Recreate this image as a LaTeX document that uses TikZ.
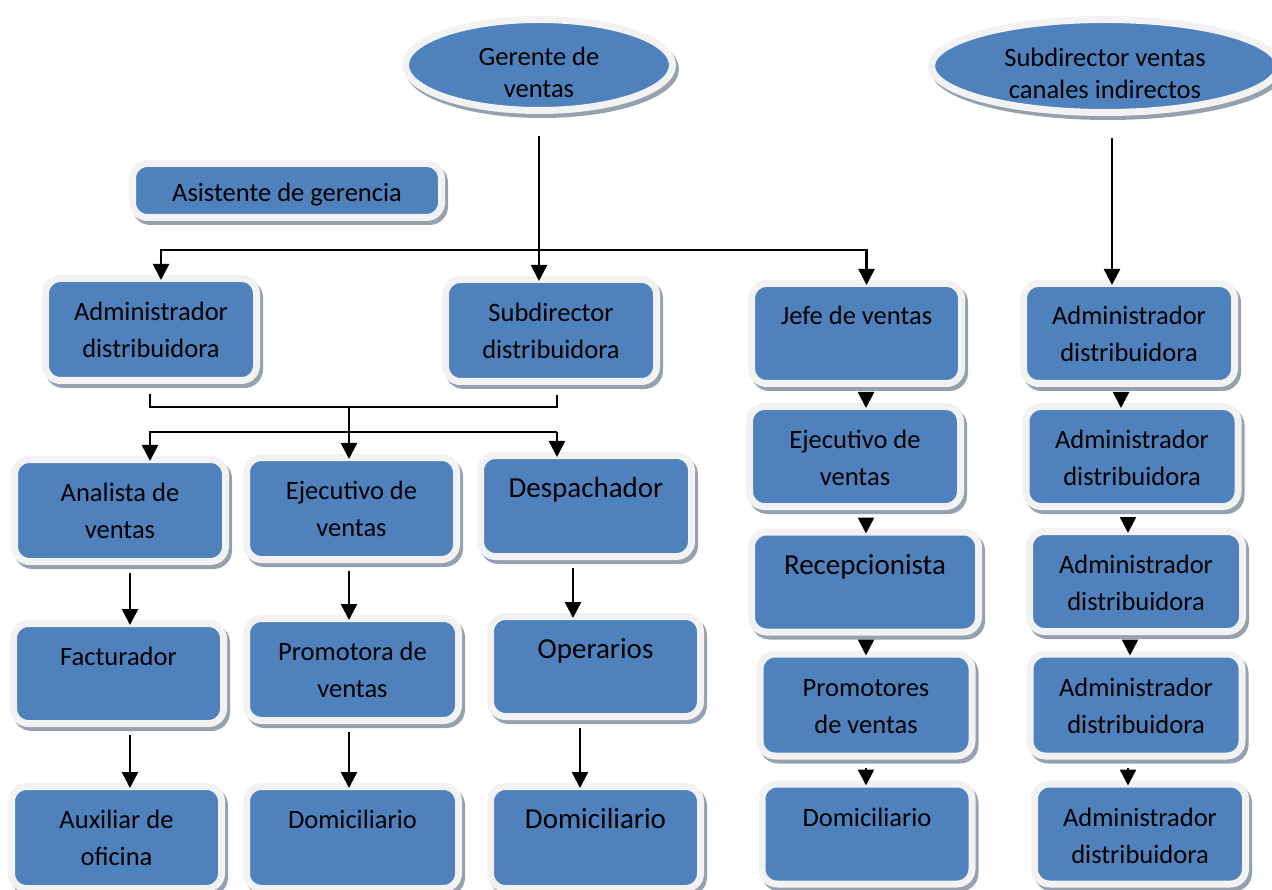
\documentclass[tikz,border=0pt]{standalone}
\usepackage{fontspec}
\setmainfont{Carlito}
\usetikzlibrary{arrows.meta,calc,shapes.geometric}
\definecolor{boxblue}{HTML}{4F81BD}
\definecolor{rimcol}{HTML}{F2F2F2}
\definecolor{shadowc}{RGB}{150,161,176}
\tikzset{
  card/.style={draw=rimcol, line width=7pt, fill=boxblue, rounded corners=15pt, inner sep=0pt,
    preaction={draw=shadowc, fill=shadowc, line width=7pt, transform canvas={xshift=3pt,yshift=-4pt}}},
  oval/.style={ellipse, draw=rimcol, line width=7pt, fill=boxblue, inner sep=0pt,
    preaction={draw=shadowc, fill=shadowc, line width=7pt, transform canvas={xshift=3pt,yshift=-4pt}}},
  link/.style={line width=2.5pt, draw=black},
  arr/.style={link, -{Triangle[width=16pt,length=16pt]}, shorten >=-5pt},
}
\newcommand\fn{\fontsize{26.5}{37}\selectfont}
\newcommand\fb{\fontsize{29}{37}\selectfont}
\newcommand\card[8]{\node[card, minimum width=#4pt+7pt, minimum height=#5pt+7pt] (#1) at (#2,#3)
  {\parbox[c][\dimexpr#5pt-10pt\relax][t]{\dimexpr#4pt-6pt\relax}{\centering#7\vspace*{#6pt}\strut#8}};}
\newcommand\down[3]{\coordinate (#1#2s) at ([xshift=#3pt]#1.south);
  \draw[arr, shorten <=8pt] (#1#2s) -- (#1#2s |- #2.north);}
\begin{document}
\begin{tikzpicture}[x=1pt,y=-1pt]
\useasboundingbox (0,0) rectangle (1272,890);
\clip (0,0) rectangle (1272,890);
% top ellipses
\node[oval, minimum width=267pt, minimum height=91pt] (ger) at (539,65)
  {\parbox[c][50pt][t]{180pt}{\centering\fontsize{26.5}{32}\selectfont\vspace*{3.6pt}\strut Gerente de\\ventas}};
\node[oval, minimum width=347pt, minimum height=93pt] (gerB) at (1105,66)
  {\parbox[c][50pt][t]{230pt}{\centering\fontsize{26.5}{32}\selectfont\vspace*{3.6pt}\strut Subdirector ventas\\canales indirectos}};
% boxes
\card{asis}{287}{190.5}{302}{47}{4}{\fn}{Asistente de gerencia}
\card{admL}{151}{329.5}{204}{95}{8}{\fn}{Administrador\\distribuidora}
\card{subd}{551}{330.5}{204}{95}{8}{\fn}{Subdirector\\distribuidora}
\card{jefe}{856.5}{333.5}{203}{93}{7}{\fn}{Jefe de ventas}
\card{adRa}{1129}{333.5}{204}{93}{7}{\fn}{Administrador\\distribuidora}
\card{anal}{120}{510.5}{204}{95}{8}{\fn}{Analista de\\ventas}
\card{ejec}{351.5}{508.5}{203}{95}{8}{\fn}{Ejecutivo de\\ventas}
\card{desp}{586}{506}{204}{94}{8}{\fb}{Despachador}
\card{fact}{118.5}{673.5}{203}{93}{8}{\fn}{Facturador}
\card{prom}{352.5}{669.5}{205}{95}{8}{\fn}{Promotora de\\ventas}
\card{oper}{595.5}{666.5}{203}{93}{8}{\fb}{Operarios}
\card{aux}{116.5}{837.5}{203}{95}{8}{\fn}{Auxiliar de\\oficina}
\card{domA}{352.5}{837.5}{205}{95}{8}{\fn}{Domiciliario}
\card{domB}{595.5}{837.5}{203}{95}{8}{\fb}{Domiciliario}
\card{ejR}{855}{456.5}{204}{93}{8}{\fn}{Ejecutivo de\\ventas}
\card{rec}{865}{582}{220}{93}{8}{\fb}{Recepcionista}
\card{proR}{866}{705}{205}{95}{8}{\fn}{Promotores\\de ventas}
\card{domC}{867}{834}{203}{93}{8}{\fn}{Domiciliario}
\card{adRb}{1132}{456.5}{205}{93}{8}{\fn}{Administrador\\distribuidora}
\card{adRc}{1136}{581.5}{206}{93}{8}{\fn}{Administrador\\distribuidora}
\card{adRd}{1136}{705}{205}{95}{8}{\fn}{Administrador\\distribuidora}
\card{adRe}{1140}{834}{204}{93}{8}{\fn}{Administrador\\distribuidora}
% connectors from Gerente de ventas
\coordinate (busA) at (0,250);
\coordinate (busB) at (0,407);
\coordinate (busC) at (0,432);
\draw[arr, shorten <=22pt] (ger.south) -- (ger.south |- subd.north);
\coordinate (tAdm) at ([xshift=10pt]admL.north);
\coordinate (tJefe) at ([xshift=10pt]jefe.north);
\draw[arr] (ger.south |- busA) -| (tAdm);
\draw[arr] (ger.south |- busA) -| (tJefe);
% join of administrador and subdirector
\coordinate (sAdm) at ($(admL.south)+(-1,10)$);
\coordinate (sSub) at ($(subd.south)+(6,10)$);
\draw[link] (sAdm) |- (sSub |- busB) -- (sSub);
\coordinate (tEje) at ([xshift=-2.5pt]ejec.north);
\draw[arr] (tEje |- busB) -- (tEje);
\coordinate (tAna) at ([xshift=30pt]anal.north);
\coordinate (tDes) at ([xshift=-29pt]desp.north);
\draw[arr] (tDes |- busC) -| (tAna);
\draw[arr] (tDes |- busC) -- (tDes);
% vertical chains
\down{anal}{fact}{10}
\down{fact}{aux}{11.5}
\down{ejec}{prom}{-2.5}
\down{prom}{domA}{-3.5}
\down{desp}{oper}{-13}
\down{oper}{domB}{-15.5}
\down{jefe}{ejR}{9.5}
\down{ejR}{rec}{11}
\down{rec}{proR}{1}
\down{proR}{domC}{0}
\coordinate (sB) at ([xshift=7pt]gerB.south);
\draw[arr, shorten <=22pt] (sB) -- (sB |- adRa.north);
\down{adRa}{adRb}{-8}
\down{adRb}{adRc}{-4}
\down{adRc}{adRd}{-6}
\down{adRd}{adRe}{-8}
\end{tikzpicture}
\end{document}
